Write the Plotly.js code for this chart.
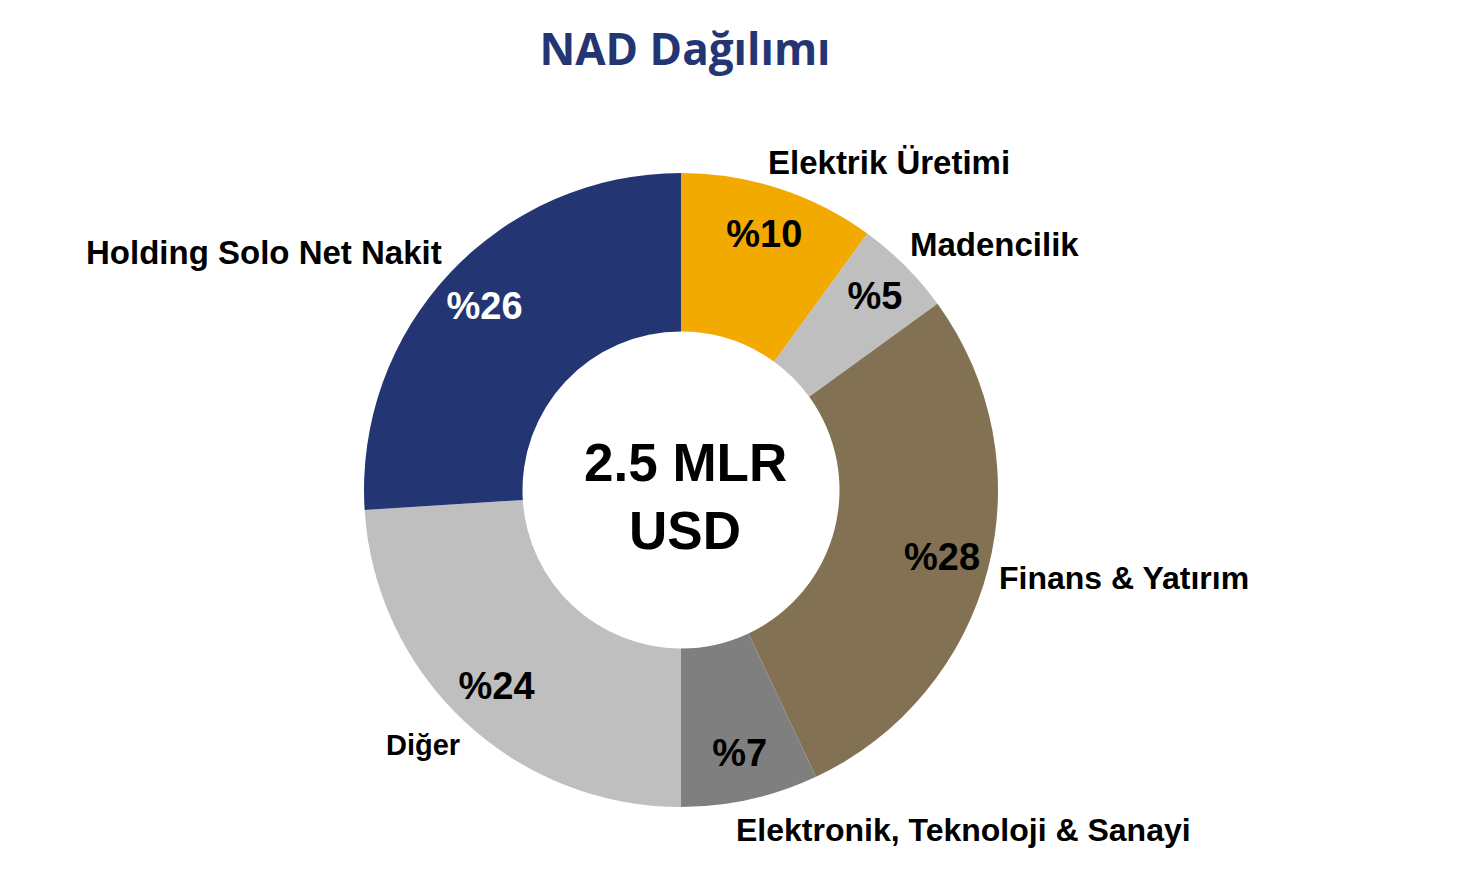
<!DOCTYPE html>
<html>
<head>
<meta charset="utf-8">
<script src="https://cdn.plot.ly/plotly-3.0.1.min.js"></script>
<style>html,body{margin:0;padding:0;background:#fff;}#chart{width:1462px;height:880px;}</style>
</head>
<body>
<div id="chart"></div>
<script>
// Data
const categories = ["Elektrik Üretimi", "Madencilik", "Finans & Yatırım", "Elektronik, Teknoloji & Sanayi", "Diğer", "Holding Solo Net Nakit"];
const shares = [10, 5, 28, 7, 24, 26];
const sliceColors = ["#F2A900", "#BFBFBF", "#827152", "#7F7F7F", "#BFBFBF", "#233673"];
const pctTextColors = ["#000000", "#000000", "#000000", "#000000", "#000000", "#FFFFFF"];
const centerLabel = ["2.5 MLR", "USD"];
const chartTitle = "NAD Dağılımı";

const W = 1462, H = 880;
const cx = 681, cy = 490, R = 317;
const dom = {
  x: [(cx - R) / W, (cx + R) / W],
  y: [(H - cy - R) / H, (H - cy + R) / H]
};

// coloured ring
const ring = {
  type: "pie",
  values: shares,
  labels: categories,
  sort: false,
  direction: "clockwise",
  rotation: 0,
  hole: 0.5,
  domain: dom,
  marker: { colors: sliceColors, line: { width: 0 } },
  textinfo: "none",
  hoverinfo: "label+value",
  showlegend: false
};

// transparent overlay ring that carries the percentage labels further out
const pctRing = {
  type: "pie",
  values: shares,
  labels: categories,
  sort: false,
  direction: "clockwise",
  rotation: 0,
  hole: 0.70,
  domain: dom,
  marker: { colors: shares.map(() => "rgba(0,0,0,0)"), line: { width: 0 } },
  textinfo: "text",
  text: shares.map(v => "%" + v),
  textposition: "inside",
  insidetextorientation: "horizontal",
  textfont: { family: "Liberation Sans, Arial, sans-serif", size: 38, color: pctTextColors, weight: 700 },
  hoverinfo: "skip",
  showlegend: false
};

const lblFont = (s) => ({ family: "Liberation Sans, Arial, sans-serif", size: s, color: "#000", weight: 700 });
const labelPos = [
  { x: 766, y: 162, s: 33, xa: "left" },
  { x: 908, y: 245, s: 33, xa: "left" },
  { x: 997, y: 578, s: 32, xa: "left" },
  { x: 734, y: 830, s: 32, xa: "left" },
  { x: 462, y: 745, s: 29, xa: "right" },
  { x: 444, y: 252, s: 33, xa: "right" }
];
const annotations = categories.map((c, i) => ({
  text: "<b>" + c + "</b>",
  xref: "paper", yref: "paper",
  x: labelPos[i].x / W, y: 1 - labelPos[i].y / H,
  xanchor: labelPos[i].xa, yanchor: "middle",
  showarrow: false,
  font: lblFont(labelPos[i].s)
}));
annotations.push({
  text: "<b>" + centerLabel[0] + "</b>",
  xref: "paper", yref: "paper", x: 685 / W, y: 1 - 462 / H,
  xanchor: "center", yanchor: "middle", showarrow: false,
  font: lblFont(53)
});
annotations.push({
  text: "<b>" + centerLabel[1] + "</b>",
  xref: "paper", yref: "paper", x: 685 / W, y: 1 - 530 / H,
  xanchor: "center", yanchor: "middle", showarrow: false,
  font: lblFont(53)
});

const layout = {
  width: W, height: H,
  margin: { l: 0, r: 0, t: 0, b: 0 },
  paper_bgcolor: "#fff",
  title: {
    text: "<b>" + chartTitle + "</b>",
    x: 685 / W, xanchor: "center",
    y: 1 - 50 / H, yanchor: "middle",
    font: { family: "Open Sans, sans-serif", size: 44, color: "#233673" }
  },
  annotations: annotations,
  showlegend: false
};

Plotly.newPlot("chart", [ring, pctRing], layout, { displayModeBar: false, staticPlot: true });
</script>
</body>
</html>
